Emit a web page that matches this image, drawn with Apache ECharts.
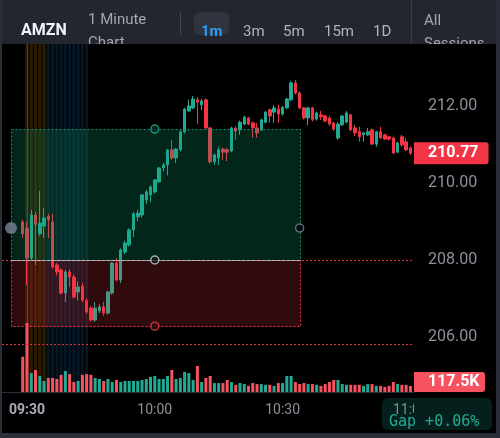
<!DOCTYPE html>
<html>
<head>
<meta charset="utf-8">
<script src="https://cdn.jsdelivr.net/npm/echarts@6/dist/echarts.min.js"></script>
<style>
html, body { margin: 0; padding: 0; background: #000; }
#chart { width: 500px; height: 438px; }
</style>
</head>
<body>
<div id="chart"></div>
<script>
// AMZN 1 minute bars, 09:29 .. 11:00
var opens = [208.99, 208.83, 208.05, 209.17, 208.68, 208.88, 209.14, 208.99, 207.87, 207.74,
    207.14, 207.69, 207.56, 207.17, 207.32, 206.94, 206.75, 206.44, 206.68, 206.78,
    206.62, 207.14, 207.92, 207.48, 208.21, 208.39, 208.78, 209.12, 209.17, 209.56,
    209.69, 209.77, 210.03, 210.39, 210.47, 210.86, 210.65, 210.86, 211.33, 211.87,
    211.95, 212.16, 212.03, 212.16, 211.43, 210.55, 210.65, 210.88, 210.86, 210.83,
    211.43, 211.38, 211.53, 211.69, 211.56, 211.43, 211.38, 211.58, 211.90, 211.84,
    211.92, 211.79, 211.95, 212.16, 212.60, 212.34, 211.95, 211.69, 211.95, 211.66,
    211.77, 211.74, 211.69, 211.56, 211.17, 211.51, 211.58, 211.77, 211.43, 211.33,
    211.25, 211.25, 211.38, 211.01, 211.33, 211.25, 211.20, 211.17, 210.80, 211.20,
    211.07, 210.91];
var closes = [208.68, 208.05, 209.17, 208.93, 208.96, 209.09, 209.04, 207.82, 207.69, 207.14,
    207.69, 207.56, 207.04, 207.30, 206.96, 206.65, 206.44, 206.75, 206.78, 206.62,
    207.17, 207.92, 207.48, 208.26, 208.44, 208.78, 209.20, 209.22, 209.69, 209.77,
    209.90, 210.08, 210.39, 210.47, 210.86, 210.65, 210.88, 211.33, 211.92, 212.00,
    212.18, 212.10, 212.13, 211.43, 210.55, 210.73, 210.86, 210.80, 210.80, 211.43,
    211.35, 211.58, 211.71, 211.53, 211.43, 211.30, 211.64, 211.84, 211.74, 211.95,
    211.79, 211.97, 212.18, 212.60, 212.34, 211.95, 211.69, 211.95, 211.64, 211.82,
    211.72, 211.61, 211.53, 211.40, 211.53, 211.74, 211.82, 211.38, 211.30, 211.20,
    211.30, 211.33, 211.01, 211.33, 211.17, 211.14, 211.14, 210.78, 211.04, 210.99,
    210.86, 210.77];
var lows = [208.57, 207.35, 208.00, 207.87, 208.62, 208.57, 208.57, 207.77, 207.60, 207.10,
    206.91, 207.30, 207.00, 206.95, 206.90, 206.60, 206.40, 206.39, 206.62, 206.55,
    206.58, 207.10, 207.45, 207.40, 208.15, 208.35, 208.60, 209.00, 209.10, 209.45,
    209.50, 209.72, 210.00, 210.30, 210.20, 210.60, 210.52, 210.82, 211.28, 211.85,
    211.92, 211.53, 211.90, 211.40, 210.50, 210.47, 210.47, 210.60, 210.57, 210.80,
    211.12, 211.25, 211.50, 211.50, 211.17, 211.17, 211.35, 211.55, 211.56, 211.56,
    211.56, 211.75, 211.92, 212.12, 212.30, 211.92, 211.65, 211.50, 211.60, 211.62,
    211.64, 211.58, 211.48, 211.35, 211.12, 211.48, 211.55, 211.35, 211.22, 211.07,
    211.07, 211.22, 210.99, 210.94, 211.14, 211.12, 211.10, 210.75, 210.78, 210.94,
    210.83, 210.73];
var highs = [209.04, 208.99, 209.30, 209.25, 209.79, 209.35, 209.20, 209.20, 207.92, 207.78,
    207.74, 207.75, 207.62, 207.45, 207.40, 207.00, 206.80, 206.91, 206.85, 206.91,
    207.20, 207.95, 208.05, 208.30, 208.50, 208.82, 209.25, 209.30, 209.72, 209.82,
    209.93, 210.10, 210.42, 210.52, 210.88, 211.12, 210.91, 211.36, 211.95, 212.16,
    212.26, 212.23, 212.18, 212.20, 211.45, 210.76, 210.94, 210.92, 210.91, 211.46,
    211.47, 211.62, 211.75, 211.72, 211.60, 211.56, 211.67, 211.87, 211.93, 212.03,
    212.03, 212.00, 212.21, 212.65, 212.68, 212.38, 211.98, 211.98, 211.98, 211.85,
    211.87, 211.77, 211.74, 211.58, 211.58, 211.77, 211.87, 211.80, 211.51, 211.46,
    211.32, 211.43, 211.41, 211.36, 211.46, 211.28, 211.22, 211.20, 211.07, 211.25,
    211.17, 210.95];
// volume in thousands
var volumes = [690, 1350, 370, 430, 315, 215, 275, 275, 255, 335,
    410, 350, 195, 215, 335, 350, 335, 275, 255, 215,
    255, 195, 235, 195, 215, 215, 215, 215, 235, 255,
    295, 315, 255, 255, 315, 430, 255, 275, 390, 370,
    235, 510, 195, 275, 315, 175, 175, 175, 235, 195,
    140, 175, 155, 120, 175, 155, 155, 140, 140, 120,
    175, 175, 315, 315, 195, 155, 175, 155, 155, 140,
    120, 155, 195, 235, 235, 155, 140, 140, 140, 140,
    120, 155, 155, 120, 120, 100, 120, 195, 155, 140,
    140, 117.5];

var firstMinute = -1;              // first bar is 09:29 (minutes after 09:30)
var timeTicks = [0, 30, 60, 90];
var priceTicks = [206, 208, 210, 212];

// highlighted session columns (minutes after 09:30)
var orangeMinutes = [0, 1, 2, 3, 4];
var blueMinutes = [5, 6, 7, 8, 9, 10, 11, 12, 13, 14];

// long position drawing
var posStart = -3.75, posMid = 30, posEnd = 64;
var targetPrice = 211.40, entryPrice = 208.00, stopPrice = 206.28, handlePrice = 208.83;
var levelLines = [208.00, 205.82];

var UP = '#22ab94', DOWN = '#f23645';

var candleData = [], volumeData = [];
for (var i = 0; i < opens.length; i++) {
    var m = firstMinute + i;
    candleData.push([m, opens[i], closes[i], lows[i], highs[i]]);
    volumeData.push({
        value: [m, volumes[i]],
        itemStyle: { color: closes[i] >= opens[i] ? UP : '#f7525f' }
    });
}
var lastClose = closes[closes.length - 1];
var lastVol = volumes[volumes.length - 1];

function fmtTime(m) {
    var t = 9 * 60 + 30 + m;
    var h = Math.floor(t / 60), mm = t % 60;
    return (h < 10 ? '0' : '') + h + ':' + (mm < 10 ? '0' : '') + mm;
}

function bandRenderer(color) {
    return function (params, api) {
        var cs = params.coordSys;
        var m = api.value(0);
        var x0 = api.coord([m - 0.38, 210])[0];
        var x1 = api.coord([m + 0.38, 210])[0];
        return {
            type: 'rect',
            shape: { x: x0, y: cs.y, width: x1 - x0, height: cs.height },
            style: { fill: color }
        };
    };
}

function renderLevel(params, api) {
    var cs = params.coordSys;
    var y = Math.round(api.coord([0, api.value(0)])[1]) + 0.5;
    return {
        type: 'line',
        shape: { x1: cs.x, y1: y, x2: cs.x + cs.width, y2: y },
        style: { stroke: DOWN, lineWidth: 1, lineDash: [2, 2], opacity: 0.9 }
    };
}

function renderBox(params, api) {
    var p0 = api.coord([api.value(0), api.value(2)]);
    var p1 = api.coord([api.value(1), api.value(3)]);
    var isTarget = params.dataIndex === 0;
    var x0 = Math.round(p0[0]) + 0.5, y0 = Math.round(p0[1]) + 0.5;
    var x1 = Math.round(p1[0]) + 0.5, y1 = Math.round(p1[1]) + 0.5;
    var kids = [{
        type: 'rect',
        shape: { x: x0, y: y0, width: x1 - x0, height: y1 - y0 },
        style: {
            fill: isTarget ? 'rgba(12,160,110,0.24)' : 'rgba(242,54,69,0.2)',
            stroke: isTarget ? '#089981' : DOWN,
            lineWidth: 1,
            lineDash: [2, 2]
        }
    }];
    if (!isTarget) {
        kids.push({
            type: 'line',
            shape: { x1: x0, y1: y0, x2: x1, y2: y0 },
            style: { stroke: '#b8bcc4', lineWidth: 1, lineDash: [4, 1] }
        });
    }
    return { type: 'group', children: kids };
}

var chart = echarts.init(document.getElementById('chart'));
var option = {
    backgroundColor: '#000',
    animation: false,
    textStyle: { fontFamily: 'Roboto' },
    grid: [
        { left: 2, right: 86, top: 44, bottom: 46, outerBoundsMode: 'none' },
        { left: 2, right: 86, top: 300, bottom: 46, outerBoundsMode: 'none' }
    ],
    xAxis: [{
        gridIndex: 0, type: 'value', min: -5.87, max: 90.85,
        axisLine: { show: true, lineStyle: { color: '#2a2e39', width: 1 } },
        axisTick: { show: false },
        splitLine: { show: false },
        axisLabel: {
            customValues: timeTicks,
            margin: 11,
            color: '#8c9099',
            fontSize: 14,
            formatter: function (v) {
                var s = fmtTime(v);
                return v === timeTicks[0] ? '{b|' + s + '}' : s;
            },
            rich: { b: { color: '#a9adb6', fontWeight: 'bold', fontSize: 14 } }
        }
    }, {
        gridIndex: 1, type: 'value', min: -5.87, max: 90.85, show: false
    }],
    yAxis: [{
        gridIndex: 0, type: 'value', position: 'right', min: 204.571, max: 213.61,
        axisLine: { show: true, lineStyle: { color: '#2a2e39', width: 1 } },
        axisTick: { show: false },
        splitLine: { show: false },
        axisLabel: {
            customValues: priceTicks,
            margin: 14,
            color: '#8c9099',
            fontSize: 16,
            formatter: function (v) { return v.toFixed(2); }
        }
    }, {
        gridIndex: 1, type: 'value', min: 0, max: 1800, show: false
    }],
    series: [{
        type: 'custom', name: 'open', xAxisIndex: 0, yAxisIndex: 0, z: 1,
        renderItem: bandRenderer('rgba(255,152,0,0.17)'),
        data: orangeMinutes, silent: true
    }, {
        type: 'custom', name: 'early', xAxisIndex: 0, yAxisIndex: 0, z: 1,
        renderItem: bandRenderer('rgba(33,150,243,0.15)'),
        data: blueMinutes, silent: true
    }, {
        type: 'bar', name: 'Volume', xAxisIndex: 1, yAxisIndex: 1, z: 2,
        barWidth: 3,
        data: volumeData
    }, {
        type: 'candlestick', name: 'AMZN', xAxisIndex: 0, yAxisIndex: 0, z: 3,
        barWidth: 3,
        encode: { x: 0, y: [1, 2, 3, 4] },
        itemStyle: { color: UP, color0: DOWN, borderColor: UP, borderColor0: DOWN, borderWidth: 1 },
        data: candleData,
        markLine: {
            silent: true,
            symbol: ['none', 'none'],
            lineStyle: { width: 1, color: 'rgba(0,0,0,0)', type: 'solid' },
            data: [{ yAxis: lastClose }],
            label: {
                show: true, position: 'end', distance: 0,
                formatter: lastClose.toFixed(2),
                backgroundColor: DOWN, color: '#fff',
                fontSize: 16, fontWeight: 'bold',
                padding: [3, 10, 3, 14], borderRadius: [0, 3, 3, 0]
            }
        }
    }, {
        type: 'custom', name: 'levels', xAxisIndex: 0, yAxisIndex: 0, z: 4,
        renderItem: renderLevel, data: levelLines, silent: true
    }, {
        type: 'custom', name: 'position', xAxisIndex: 0, yAxisIndex: 0, z: 5,
        renderItem: renderBox,
        encode: { x: [0, 1], y: [2, 3] },
        data: [
            [posStart, posEnd, targetPrice, entryPrice],
            [posStart, posEnd, entryPrice, stopPrice]
        ],
        silent: true
    }, {
        type: 'scatter', name: 'handles', xAxisIndex: 0, yAxisIndex: 0, z: 6,
        symbol: 'circle', symbolSize: 8, silent: true,
        data: [
            { value: [posMid, targetPrice], itemStyle: { color: '#062a20', borderColor: UP, borderWidth: 1.5 } },
            { value: [posMid, entryPrice], itemStyle: { color: '#1a1a1a', borderColor: '#c8ccd4', borderWidth: 1.5 } },
            { value: [posMid, stopPrice], itemStyle: { color: '#2a0e10', borderColor: DOWN, borderWidth: 1.5 } },
            { value: [posEnd, handlePrice], itemStyle: { color: '#000', borderColor: '#7c8298', borderWidth: 1.5 } },
            { value: [posStart, handlePrice], symbolSize: 12, itemStyle: { color: '#7c8298' } }
        ]
    }],
    graphic: [
        // toolbar
        { type: 'rect', z: 50, shape: { x: 0, y: 0, width: 500, height: 44 }, style: { fill: '#23262f' } },
        { type: 'rect', z: 50, shape: { x: 194, y: 12, width: 35, height: 23, r: 6 }, style: { fill: '#30343e' } },
        { type: 'rect', z: 50, shape: { x: 180, y: 12, width: 1, height: 23 }, style: { fill: '#434651' } },
        { type: 'rect', z: 50, shape: { x: 411, y: 0, width: 1, height: 44 }, style: { fill: '#3a3e48' } },
        { type: 'text', z: 51, x: 21, y: 31, style: { text: 'AMZN', fill: '#f0f3fa', font: 'bold 16px Roboto', textVerticalAlign: 'middle' } },
        { type: 'text', z: 51, x: 88, y: 20, style: { text: '1 Minute', fill: '#a3a6af', font: '15px Roboto', textVerticalAlign: 'middle' } },
        { type: 'text', z: 51, x: 88, y: 43, style: { text: 'Chart', fill: '#a3a6af', font: '15px Roboto', textVerticalAlign: 'middle' } },
        { type: 'text', z: 51, x: 201, y: 32, style: { text: '1m', fill: '#2a9bf0', font: 'bold 15px Roboto', textVerticalAlign: 'middle' } },
        { type: 'text', z: 51, x: 243, y: 32, style: { text: '3m', fill: '#b2b5be', font: '15px Roboto', textVerticalAlign: 'middle' } },
        { type: 'text', z: 51, x: 283, y: 32, style: { text: '5m', fill: '#b2b5be', font: '15px Roboto', textVerticalAlign: 'middle' } },
        { type: 'text', z: 51, x: 324, y: 32, style: { text: '15m', fill: '#b2b5be', font: '15px Roboto', textVerticalAlign: 'middle' } },
        { type: 'text', z: 51, x: 373, y: 32, style: { text: '1D', fill: '#b2b5be', font: '15px Roboto', textVerticalAlign: 'middle' } },
        { type: 'text', z: 51, x: 424, y: 21, style: { text: 'All', fill: '#a3a6af', font: '15px Roboto', textVerticalAlign: 'middle' } },
        { type: 'text', z: 51, x: 424, y: 44, style: { text: 'Sessions', fill: '#a3a6af', font: '15px Roboto', textVerticalAlign: 'middle' } },
        { type: 'rect', z: 52, shape: { x: 89, y: 44, width: 70, height: 14 }, style: { fill: '#000' } },
        { type: 'rect', z: 52, shape: { x: 415, y: 44, width: 81, height: 14 }, style: { fill: '#000' } },
        // right column at the time axis
        { type: 'rect', z: 50, shape: { x: 414, y: 393, width: 82, height: 40 }, style: { fill: '#000' } },
        { type: 'rect', z: 51, shape: { x: 414, y: 372, width: 71, height: 20, r: [0, 3, 3, 0] }, style: { fill: '#f7525f' } },
        { type: 'text', z: 52, x: 428, y: 382, style: { text: lastVol.toFixed(1) + 'K', fill: '#fff', font: 'bold 16px Roboto', textVerticalAlign: 'middle' } },
        { type: 'rect', z: 53, shape: { x: 382, y: 398, width: 110, height: 32, r: 6 }, style: { fill: 'rgba(26,160,140,0.2)' } },
        { type: 'text', z: 54, x: 389, y: 422, style: { text: 'Gap +0.06%', fill: UP, font: '15px "DejaVu Sans Mono"', textVerticalAlign: 'middle' } },
        // frame
        { type: 'rect', z: 60, shape: { x: 0, y: 0, width: 2, height: 438 }, style: { fill: '#2a2e38' } },
        { type: 'rect', z: 60, shape: { x: 496, y: 0, width: 4, height: 438 }, style: { fill: '#2a2e38' } },
        { type: 'rect', z: 60, shape: { x: 0, y: 433, width: 500, height: 5 }, style: { fill: '#2a2e38' } }
    ]
};
chart.setOption(option);
</script>
</body>
</html>
